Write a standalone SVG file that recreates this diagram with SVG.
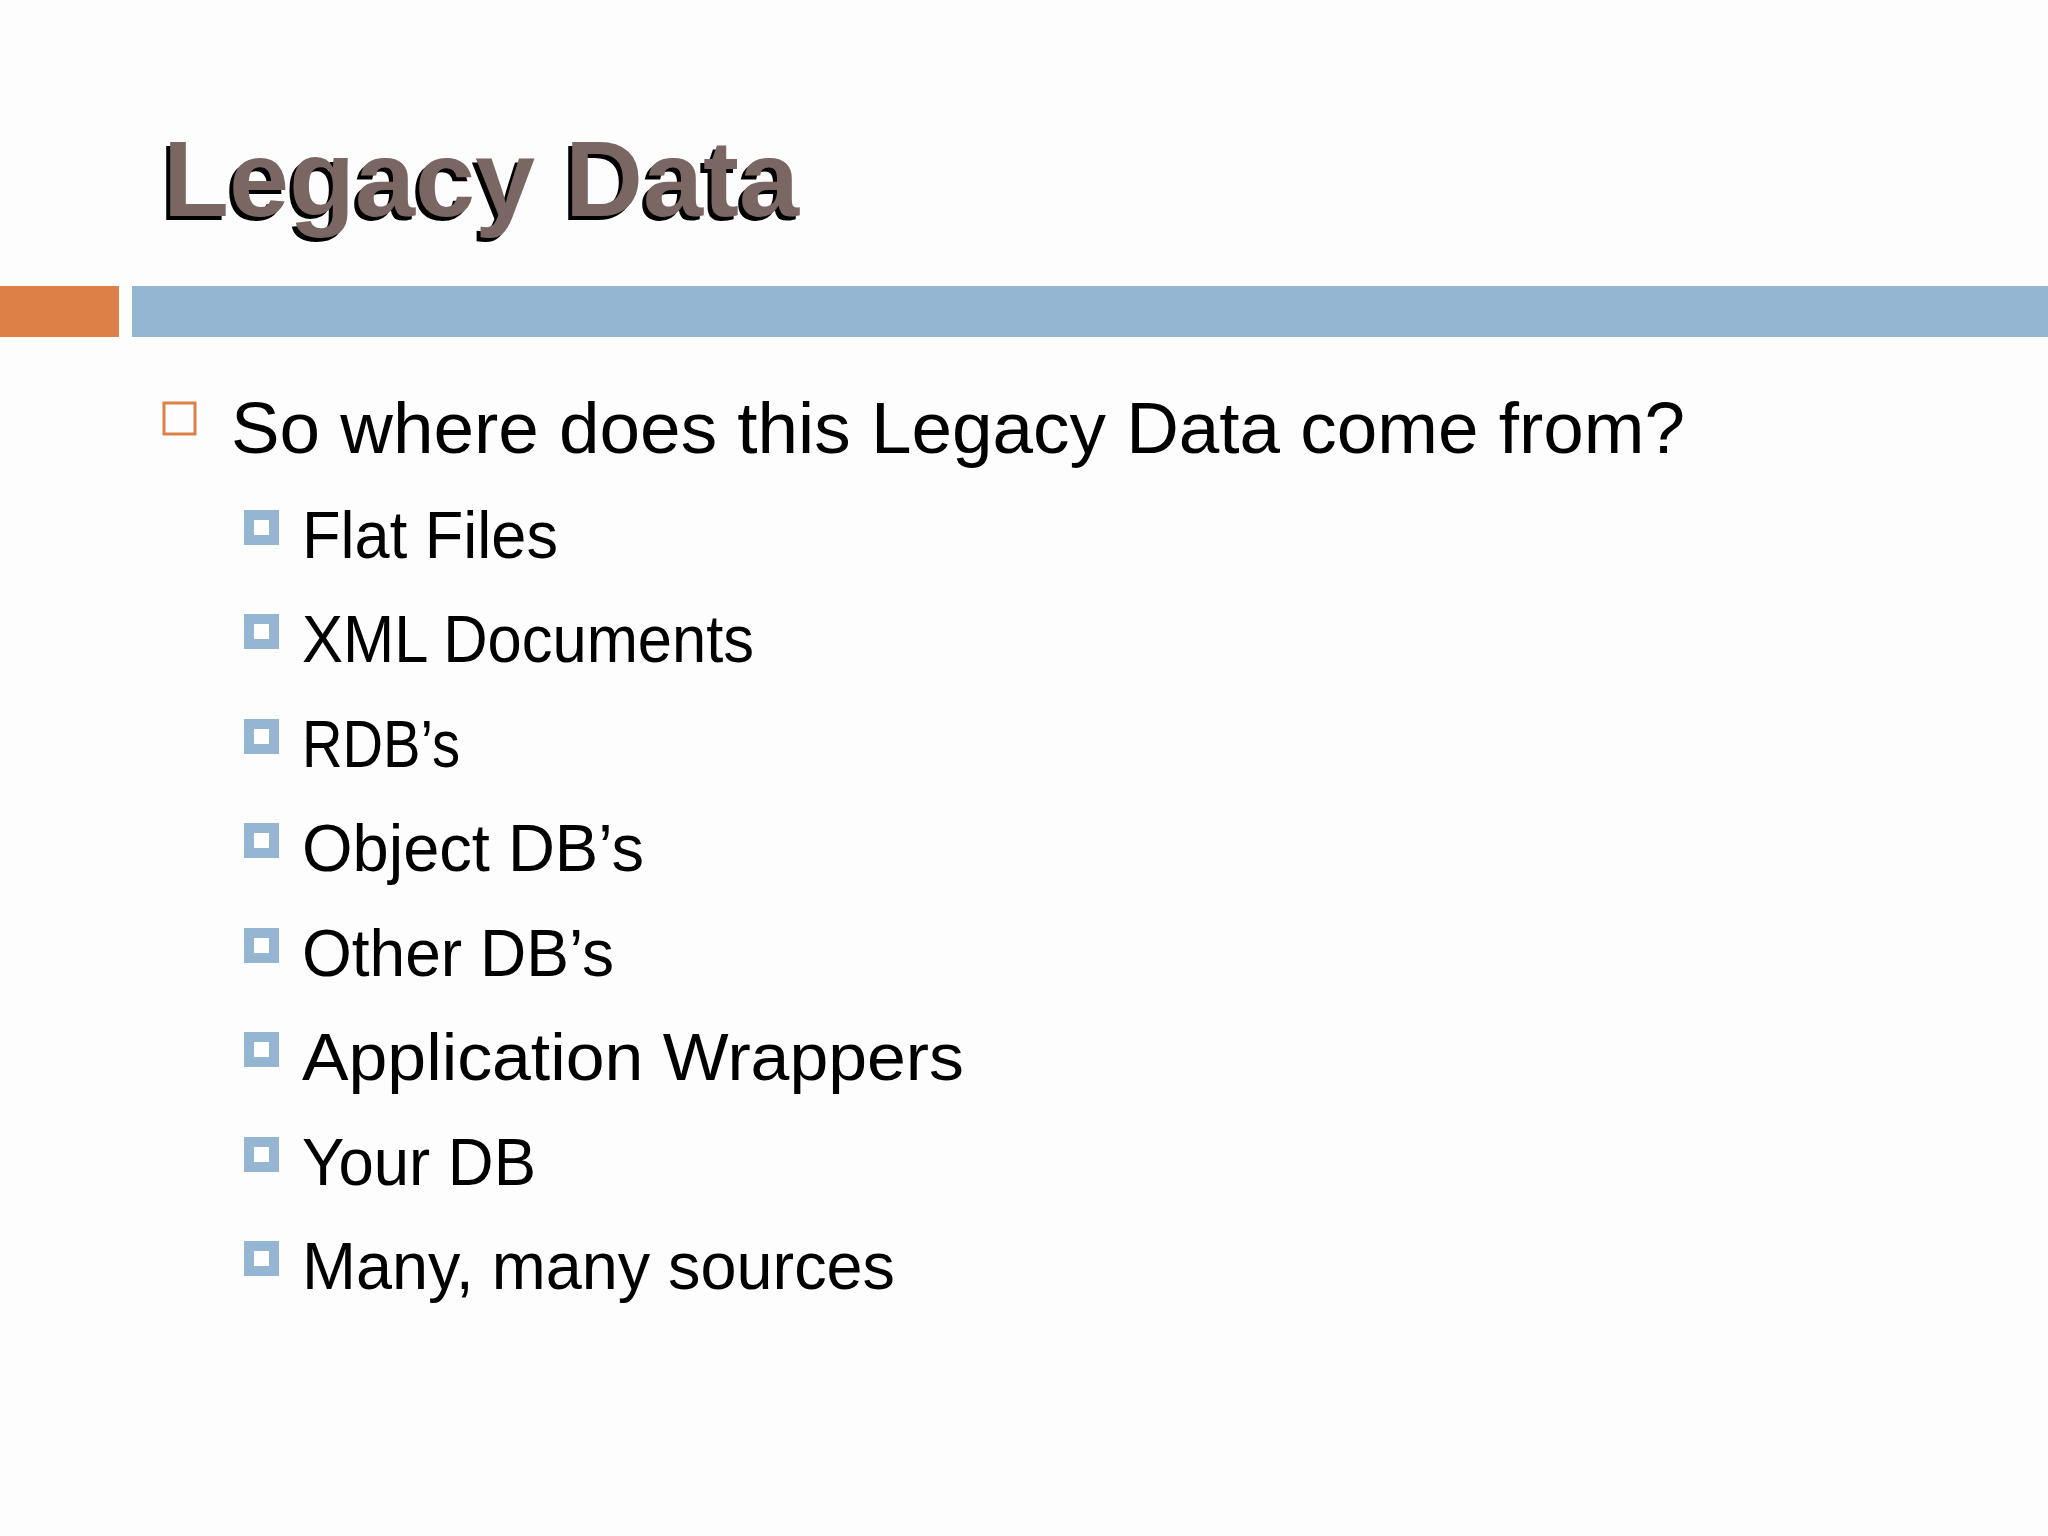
<svg xmlns="http://www.w3.org/2000/svg" width="2048" height="1536" viewBox="0 0 2048 1536">
<style>
.t{font-family:"Liberation Sans",Arial,sans-serif;fill:#000}
.s{font-size:66px}
.sb{fill:#fff;stroke:#94b6d2;stroke-width:10}
</style>
<rect width="2048" height="1536" fill="#fdfdfd"/>
<g id="title">
<text x="159" y="220" class="t" font-size="108" font-weight="bold" fill="#000" textLength="636" lengthAdjust="spacingAndGlyphs">Legacy Data</text>
<text x="163" y="216" class="t" font-size="108" font-weight="bold" style="fill:#7a6662" textLength="636" lengthAdjust="spacingAndGlyphs">Legacy Data</text>
</g>
<g id="bars">
<rect x="0" y="286" width="119" height="51" fill="#dd8047"/>
<rect x="132" y="286" width="1916" height="51" fill="#94b6d2"/>
</g>
<g id="main">
<rect x="164" y="403" width="31" height="31" fill="none" stroke="#dd8047" stroke-width="3"/>
<text x="231" y="453" class="t" font-size="72" textLength="1454" lengthAdjust="spacingAndGlyphs">So where does this Legacy Data come from?</text>
</g>
<g id="subs">
<rect x="249" y="515" width="25" height="25" class="sb"/><text x="302" y="558" class="t s" textLength="256" lengthAdjust="spacingAndGlyphs">Flat Files</text>
<rect x="249" y="619" width="25" height="25" class="sb"/><text x="302" y="662" class="t s" textLength="452" lengthAdjust="spacingAndGlyphs">XML Documents</text>
<rect x="249" y="724" width="25" height="25" class="sb"/><text x="302" y="767" class="t s" textLength="158" lengthAdjust="spacingAndGlyphs">RDB’s</text>
<rect x="249" y="828" width="25" height="25" class="sb"/><text x="302" y="871" class="t s" textLength="342" lengthAdjust="spacingAndGlyphs">Object DB’s</text>
<rect x="249" y="933" width="25" height="25" class="sb"/><text x="302" y="976" class="t s" textLength="312" lengthAdjust="spacingAndGlyphs">Other DB’s</text>
<rect x="249" y="1037" width="25" height="25" class="sb"/><text x="302" y="1080" class="t s" textLength="662" lengthAdjust="spacingAndGlyphs">Application Wrappers</text>
<rect x="249" y="1142" width="25" height="25" class="sb"/><text x="302" y="1185" class="t s" textLength="234" lengthAdjust="spacingAndGlyphs">Your DB</text>
<rect x="249" y="1246" width="25" height="25" class="sb"/><text x="302" y="1289" class="t s" textLength="593" lengthAdjust="spacingAndGlyphs">Many, many sources</text>
</g>
</svg>
